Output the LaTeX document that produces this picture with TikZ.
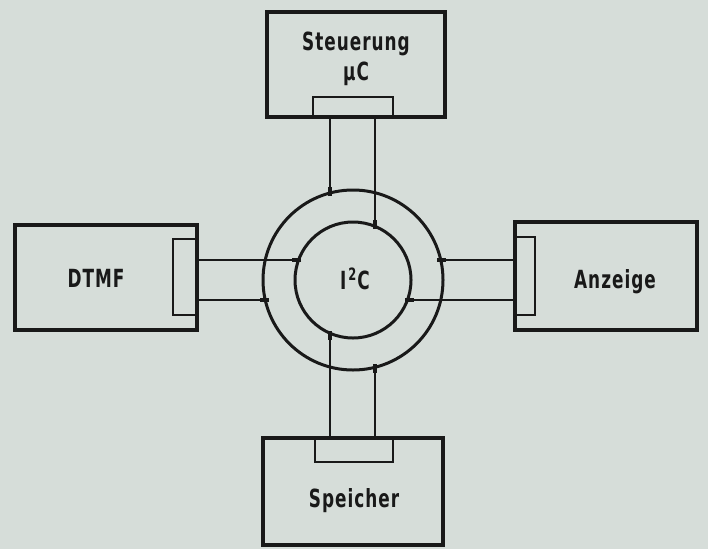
\documentclass[tikz,border=0pt]{standalone}
\usepackage{fontspec}
\setmainfont{DejaVu Sans Condensed}
\definecolor{bg}{RGB}{214,221,217}
\definecolor{ink}{RGB}{25,25,25}
\begin{document}
\begin{tikzpicture}[x=1pt,y=-1pt,
  blk/.style={draw=ink,line width=3.5pt,inner sep=0pt},
  port/.style={draw=ink,line width=2pt},
  ring/.style={draw=ink,line width=3pt},
  wire/.style={draw=ink,line width=2pt},
  tick/.style={draw=ink,line width=3.5pt},
  lbl/.style={text=ink,anchor=base,inner sep=0pt,font=\fontsize{25}{30}\selectfont\bfseries\addfontfeatures{FakeStretch=0.75,LetterSpace=4}}]
\fill[bg] (0,0) rectangle (708,549);
\useasboundingbox (0,0) rectangle (708,549);
% boxes
\node[blk,minimum width=178pt,minimum height=105pt] (top) at (356,64.5) {};
\node[blk,minimum width=182pt,minimum height=105pt] (left) at (106,277.5) {};
\node[blk,minimum width=182pt,minimum height=108pt] (right) at (606,276) {};
\node[blk,minimum width=180pt,minimum height=107pt] (bot) at (353,491.5) {};
% labels
\node[lbl] (tl1) at (356,50) {Steuerung};
\node[lbl] (tl2) at (356,80) {µC};
\node[lbl] (ll) at (96,287) {DTMF};
\node[lbl] (rl) at (615,288) {Anzeige};
\node[lbl] (bl) at (354,507) {Speicher};
\node[lbl] (cl) at (355,289) {I\kern2pt\raisebox{9pt}{\fontsize{17}{20}\selectfont 2}\kern1pt C};
% ports
\draw[port] (313,117) -- (313,97) -- (393,97) -- (393,117);
\draw[port] (197,239) -- (173,239) -- (173,315) -- (197,315);
\draw[port] (515,237) -- (535,237) -- (535,315) -- (515,315);
\draw[port] (315,438) -- (315,462) -- (393,462) -- (393,438);
% ring
\coordinate (c) at (353,280);
\draw[ring] (c) circle[radius=90pt];
\draw[ring] (c) circle[radius=58pt];
% junction coordinates
\coordinate (t1) at (330,193);
\coordinate (t2) at (375,226);
\coordinate (l1) at (298,260);
\coordinate (l2) at (266,300);
\coordinate (r1) at (440,260);
\coordinate (r2) at (408,300);
\coordinate (b1) at (330,334);
\coordinate (b2) at (375,367);
% wires
\draw[wire] (t1) -- (t1 |- top.south);
\draw[wire] (t2) -- (t2 |- top.south);
\draw[wire] (l1) -- (l1 -| left.east);
\draw[wire] (l2) -- (l2 -| left.east);
\draw[wire] (r1) -- (r1 -| right.west);
\draw[wire] (r2) -- (r2 -| right.west);
\draw[wire] (b1) -- (b1 |- bot.north);
\draw[wire] (b2) -- (b2 |- bot.north);
% junction ticks
\draw[tick] ([yshift=-3pt]t1) -- ++(0,-9);
\draw[tick] ([yshift=-3pt]t2) -- ++(0,-9);
\draw[tick] ([xshift=3pt]l1) -- ++(-9,0);
\draw[tick] ([xshift=3pt]l2) -- ++(-9,0);
\draw[tick] ([xshift=-3pt]r1) -- ++(9,0);
\draw[tick] ([xshift=-3pt]r2) -- ++(9,0);
\draw[tick] ([yshift=3pt]b1) -- ++(0,9);
\draw[tick] ([yshift=3pt]b2) -- ++(0,9);
\end{tikzpicture}
\end{document}
